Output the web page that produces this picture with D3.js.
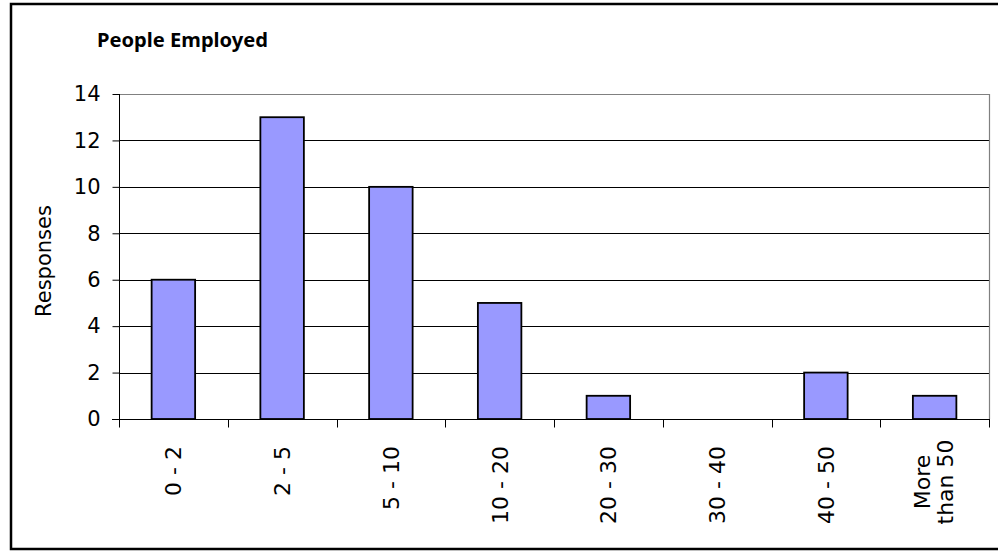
<!DOCTYPE html>
<html>
<head>
<meta charset="utf-8">
<script src="https://cdn.jsdelivr.net/npm/d3@7"></script>
<style>
html,body{margin:0;padding:0;background:#fff;}
svg{display:block;}
</style>
</head>
<body>
<svg id="chart" width="998" height="552"></svg>
<script>
const categories = ["0 - 2","2 - 5","5 - 10","10 - 20","20 - 30","30 - 40","40 - 50","More than 50"];
const values = [6,13,10,5,1,0,2,1];
const yTicks = [0,2,4,6,8,10,12,14];
const title = "People Employed";
const yLabel = "Responses";

(function(){
const svg = d3.select("#chart");
const font = "'DejaVu Sans', Verdana, sans-serif";
const pLeft = 119, pRight = 989, pTop = 94, pBottom = 419;

// outer frame
svg.append("rect").attr("x",11).attr("y",4).attr("width",1000).attr("height",545)
  .attr("fill","#fff").attr("stroke","#000").attr("stroke-width",2.5);

const x = d3.scaleBand().domain(categories).range([pLeft,pRight]).paddingInner(0).paddingOuter(0);
const y = d3.scaleLinear().domain([0,14]).range([pBottom,pTop]);

// gridlines
svg.append("g").selectAll("line").data(yTicks.filter(d=>d>0 && d<14)).join("line")
  .attr("x1",pLeft).attr("x2",pRight)
  .attr("y1",d=>Math.round(y(d))+0.5).attr("y2",d=>Math.round(y(d))+0.5)
  .attr("stroke","#000").attr("stroke-width",1);

// plot border top & right (gray)
svg.append("line").attr("x1",pLeft).attr("x2",pRight+0.5).attr("y1",pTop+0.5).attr("y2",pTop+0.5)
  .attr("stroke","#808080").attr("stroke-width",1.2);
svg.append("line").attr("x1",pRight+0.5).attr("x2",pRight+0.5).attr("y1",pTop).attr("y2",pBottom)
  .attr("stroke","#808080").attr("stroke-width",1.2);

// bars
const bw = x.bandwidth()*0.4;
const barData = values.map((v,i)=>({c:categories[i],v})).filter(d=>d.v>0);
svg.append("g").selectAll("rect").data(barData).join("rect")
  .attr("x",d=>x(d.c)+x.bandwidth()/2-bw/2)
  .attr("y",d=>y(d.v))
  .attr("width",bw)
  .attr("height",d=>y(0)-y(d.v))
  .attr("fill","#9999ff").attr("stroke","#000").attr("stroke-width",1.8);

// y axis
const yAxis = d3.axisLeft(y).tickValues(yTicks).tickSize(7).tickPadding(12).tickFormat(d3.format("d"));
const gy = svg.append("g").attr("transform",`translate(${pLeft+0.5},0)`).call(yAxis);
gy.select(".domain").remove();
gy.append("line").attr("x1",0).attr("x2",0).attr("y1",pTop).attr("y2",pBottom+8).attr("stroke","#000");
gy.selectAll(".tick line").attr("stroke","#000");
gy.selectAll(".tick text").attr("font-family",font).attr("font-size",21).attr("fill","#000");

// x axis
const gx = svg.append("g").attr("transform",`translate(0,${pBottom+0.5})`);
gx.append("line").attr("x1",pLeft-7).attr("x2",pRight+1).attr("y1",0).attr("y2",0).attr("stroke","#000");
const tickPos = categories.map(c=>x(c)).concat([pRight]);
gx.selectAll("line.t").data(tickPos).join("line").attr("class","t")
  .attr("x1",d=>Math.round(d)+0.5).attr("x2",d=>Math.round(d)+0.5).attr("y1",0).attr("y2",8)
  .attr("stroke","#000");

// x labels rotated
categories.forEach(c=>{
  const cx = x(c)+x.bandwidth()/2;
  const t = svg.append("text")
    .attr("font-family",font).attr("font-size",22).attr("fill","#000");
  if(c!=="More than 50"){
    t.attr("transform",`translate(${cx},446) rotate(-90)`).attr("text-anchor","end");
    t.append("tspan").attr("x",0).attr("dy","0.36em").text(c);
  } else {
    t.attr("transform",`translate(${cx},482) rotate(-90)`).attr("text-anchor","middle");
    t.append("tspan").attr("x",0).attr("dy","-0.2em").text("More");
    t.append("tspan").attr("x",0).attr("dy","1.05em").text("than 50");
  }
});

// y label
svg.append("text").attr("transform","translate(51,261) rotate(-90)")
  .attr("text-anchor","middle").attr("font-family",font).attr("font-size",21).attr("fill","#000")
  .text(yLabel);

// title
svg.append("text").attr("x",97).attr("y",47)
  .attr("font-family","'Noto Sans', 'Open Sans', sans-serif").attr("font-weight","bold").attr("font-size",19).attr("fill","#000")
  .attr("textLength",171).attr("lengthAdjust","spacingAndGlyphs")
  .text(title);
})();
</script>
</body>
</html>
